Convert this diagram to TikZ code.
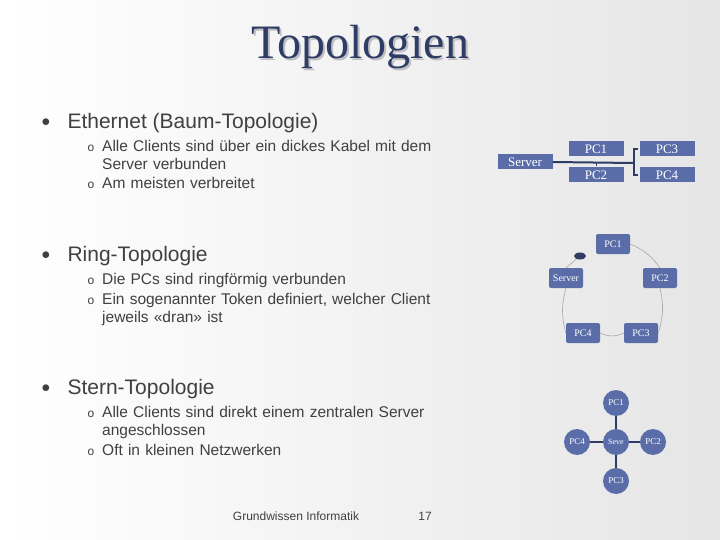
\documentclass[tikz,border=0pt]{standalone}
\usepackage{fontspec}
\setmainfont{Liberation Sans}
\newfontfamily\titlefont{Liberation Serif}
\usetikzlibrary{shapes.geometric}
\definecolor{boxc}{HTML}{5A6DA8}
\definecolor{txt}{HTML}{404040}
\definecolor{ttl}{HTML}{2E3C66}
\begin{document}
\begin{tikzpicture}[x=1pt,y=-1pt,
  l1/.style={anchor=west,text=txt,font=\fontsize{21}{24}\selectfont},
  l2/.style={anchor=north west,text=txt,font=\fontsize{15.5}{18}\selectfont,align=left,text width=340pt,inner sep=0pt},
  bul/.style={anchor=west,text=txt,font=\fontsize{16}{18}\selectfont},
  sbul/.style={anchor=west,text=txt,font=\fontsize{12}{14}\selectfont},
  rect/.style={fill=boxc,text=white,font=\titlefont\fontsize{13}{14}\selectfont,minimum width=55pt,minimum height=15pt,inner sep=0pt},
  rbox/.style={fill=boxc,text=white,rounded corners=2pt,font=\titlefont\fontsize{10}{11}\selectfont,minimum width=34pt,minimum height=20pt,inner sep=0pt},
  circ/.style={circle,fill=boxc,text=white,minimum size=26pt,inner sep=0pt},
  ring/.style={draw=gray!70,line width=0.6pt}]
\shade[left color=white,right color=black!10] (0,0) rectangle (720,540);
\useasboundingbox (0,0) rectangle (720,540);
\node[text=black!25,font=\titlefont\fontsize{48}{50}\selectfont] at (362,49) {Topologien};
\node[text=ttl,font=\titlefont\fontsize{48}{50}\selectfont] (title) at (360,47) {Topologien};
% text
\node[bul] (b1) at (38,123) {$\bullet$};
\node[l1] (t1) at (64,123) {Ethernet (Baum-Topologie)};
\node[sbul] (s1) at (84,148) {o};
\node[l2] (u1) at (102,140) {Alle Clients sind über ein dickes Kabel mit dem\\Server verbunden};
\node[sbul] (s2) at (84,185) {o};
\node[l2] (u2) at (102,177) {Am meisten verbreitet};
\node[bul] (b2) at (38,256) {$\bullet$};
\node[l1] (t2) at (64,256) {Ring-Topologie};
\node[sbul] (s3) at (84,281) {o};
\node[l2] (u3) at (102,273) {Die PCs sind ringförmig verbunden};
\node[sbul] (s4) at (84,301) {o};
\node[l2] (u4) at (102,293) {Ein sogenannter Token definiert, welcher Client\\jeweils «dran» ist};
\node[bul] (b3) at (38,389) {$\bullet$};
\node[l1] (t3) at (64,389) {Stern-Topologie};
\node[sbul] (s5) at (84,414) {o};
\node[l2] (u5) at (102,406) {Alle Clients sind direkt einem zentralen Server\\angeschlossen};
\node[sbul] (s6) at (84,452) {o};
\node[l2] (u6) at (102,444) {Oft in kleinen Netzwerken};
\node[text=txt,font=\fontsize{12}{14}\selectfont] (f1) at (296,516) {Grundwissen Informatik};
\node[text=txt,font=\fontsize{12}{14}\selectfont] (f2) at (425,516) {17};
% bus
\node[rect] (srv) at (525,162) {Server};
\node[rect] (p1) at (596,149) {PC1};
\node[rect] (p2) at (596,175) {PC2};
\node[rect] (p3) at (667,149) {PC3};
\node[rect] (p4) at (667,175) {PC4};
\coordinate (br) at (633,163);
\draw[ttl,line width=2pt] (srv.east) -- (br);
\draw[ttl,line width=1pt] (596,163) -- (596,166);
\draw[ttl,line width=2pt] (638,149) -- (634,149) -- (634,175) -- (638,175);
% ring
\node[rbox] (r1) at (613,244) {PC1};
\node[rbox] (rs) at (566,278) {Server};
\node[rbox] (r2) at (660,278) {PC2};
\node[rbox] (r4) at (583,333) {PC4};
\node[rbox] (r3) at (641,333) {PC3};
\node[ellipse,fill=ttl,minimum width=12pt,minimum height=7pt,inner sep=0pt] (tok) at (580,256) {};
\draw[ring] (r1.east) to[bend left=15] (r2.north);
\draw[ring] (r2.south) to[bend left=15] (r3.east);
\draw[ring] (r3.west) to[bend left=25] (r4.east);
\draw[ring] (r4.west) to[bend left=15] (rs.south);
\draw[ring] (rs.north) -- (tok);
% star
\node[circ] (c0) at (616,442) {};
\node[circ] (c1) at (616,403) {};
\node[circ] (c2) at (653,442) {};
\node[circ] (c3) at (616,481) {};
\node[circ] (c4) at (577,442) {};
\foreach \n in {c1,c2,c3,c4} \draw[ttl,line width=2pt] (c0) -- (\n);
\node[text=white,font=\titlefont\fontsize{8}{9}\selectfont] at (c0) {Seve};
\node[text=white,font=\titlefont\fontsize{9}{10}\selectfont] at (c1) {PC1};
\node[text=white,font=\titlefont\fontsize{9}{10}\selectfont] at (c2) {PC2};
\node[text=white,font=\titlefont\fontsize{9}{10}\selectfont] at (c3) {PC3};
\node[text=white,font=\titlefont\fontsize{9}{10}\selectfont] at (c4) {PC4};
\end{tikzpicture}
\end{document}
